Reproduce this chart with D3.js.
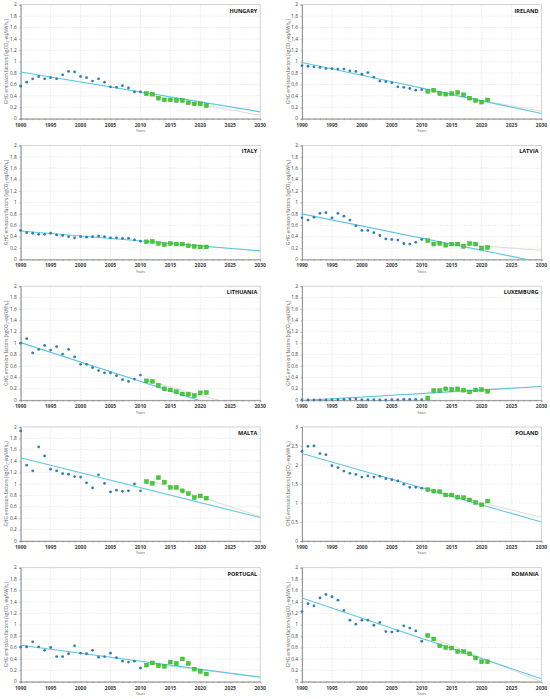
<!DOCTYPE html>
<html>
<head>
<meta charset="utf-8">
<script src="https://cdn.jsdelivr.net/npm/d3@7"></script>
<style>
body { margin: 0; background: #fff; }
text { font-family: 'Open Sans', 'Liberation Sans', sans-serif; }
</style>
</head>
<body>
<div class="chart"></div>
<script>
// countries, in panel order (left to right, top to bottom)
var countries = ['HUNGARY', 'IRELAND', 'ITALY', 'LATVIA', 'LITHUANIA', 'LUXEMBURG', 'MALTA', 'POLAND', 'PORTUGAL', 'ROMANIA'];

var years = [1990, 1991, 1992, 1993, 1994, 1995, 1996, 1997, 1998, 1999, 2000,
	2001, 2002, 2003, 2004, 2005, 2006, 2007, 2008, 2009, 2010,
	2011, 2012, 2013, 2014, 2015, 2016, 2017, 2018, 2019, 2020, 2021];
var firstRecentYear = 2011;

// emission factors, kgCO2-eq/kWhe
var hungary = [0.57, 0.64, 0.70, 0.74, 0.70, 0.72, 0.70, 0.77, 0.83, 0.82, 0.74,
	0.72, 0.66, 0.70, 0.64, 0.56, 0.55, 0.58, 0.54, 0.47, 0.47,
	0.44, 0.43, 0.36, 0.33, 0.33, 0.32, 0.32, 0.28, 0.26, 0.26, 0.23];
var ireland = [0.93, 0.92, 0.91, 0.90, 0.88, 0.88, 0.87, 0.87, 0.84, 0.83, 0.78,
	0.81, 0.73, 0.66, 0.65, 0.63, 0.56, 0.55, 0.53, 0.50, 0.51,
	0.48, 0.50, 0.44, 0.43, 0.44, 0.46, 0.42, 0.36, 0.32, 0.29, 0.33];
var italy = [0.51, 0.47, 0.46, 0.44, 0.44, 0.46, 0.43, 0.42, 0.40, 0.38, 0.40,
	0.39, 0.40, 0.41, 0.40, 0.38, 0.38, 0.37, 0.37, 0.345, 0.32,
	0.31, 0.315, 0.28, 0.26, 0.28, 0.27, 0.27, 0.24, 0.23, 0.22, 0.22];
var latvia = [0.73, 0.69, 0.74, 0.81, 0.82, 0.73, 0.81, 0.76, 0.69, 0.59, 0.51,
	0.51, 0.47, 0.42, 0.36, 0.35, 0.34, 0.28, 0.27, 0.30, 0.35,
	0.33, 0.27, 0.28, 0.25, 0.27, 0.27, 0.23, 0.28, 0.27, 0.20, 0.21];
var lithuania = [1.00, 1.08, 0.83, 0.89, 0.96, 0.88, 0.94, 0.81, 0.89, 0.76, 0.63,
	0.63, 0.57, 0.52, 0.48, 0.48, 0.43, 0.36, 0.33, 0.37, 0.44,
	0.34, 0.33, 0.26, 0.20, 0.18, 0.15, 0.11, 0.105, 0.08, 0.13, 0.135];
var luxemburg = [0.005, 0.005, 0.005, 0.005, 0.005, 0.01, 0.01, 0.015, 0.02, 0.025, 0.01,
	0.01, 0.01, 0.005, 0.005, 0.01, 0.01, 0.015, 0.015, 0.015, 0.01,
	0.04, 0.17, 0.17, 0.20, 0.19, 0.20, 0.175, 0.145, 0.18, 0.185, 0.155];
var malta = [1.93, 1.33, 1.23, 1.65, 1.49, 1.26, 1.23, 1.18, 1.17, 1.13, 1.12,
	1.02, 0.93, 1.16, 1.01, 0.86, 0.89, 0.87, 0.88, 1.00, 0.88,
	1.04, 1.01, 1.11, 1.03, 0.94, 0.94, 0.88, 0.83, 0.76, 0.79, 0.75];
var poland = [2.36, 2.49, 2.50, 2.30, 2.27, 1.98, 1.93, 1.84, 1.78, 1.75, 1.68,
	1.71, 1.68, 1.70, 1.64, 1.61, 1.58, 1.49, 1.41, 1.41, 1.39,
	1.35, 1.31, 1.30, 1.21, 1.21, 1.15, 1.14, 1.08, 1.01, 0.95, 1.05];
var portugal = [0.61, 0.61, 0.70, 0.61, 0.55, 0.60, 0.44, 0.44, 0.49, 0.63, 0.50,
	0.49, 0.55, 0.43, 0.44, 0.50, 0.42, 0.36, 0.345, 0.36, 0.24,
	0.29, 0.33, 0.28, 0.27, 0.345, 0.32, 0.40, 0.32, 0.22, 0.18, 0.135];
var romania = [1.23, 1.37, 1.33, 1.47, 1.53, 1.49, 1.43, 1.25, 1.08, 1.01, 1.08,
	1.08, 0.99, 1.04, 0.88, 0.87, 0.89, 0.98, 0.94, 0.89, 0.71,
	0.81, 0.75, 0.63, 0.60, 0.59, 0.53, 0.53, 0.49, 0.415, 0.35, 0.35];

var series = [hungary, ireland, italy, latvia, lithuania, luxemburg, malta, poland, portugal, romania];

// trend lines: full period fit (1990 -> 2030) and recent fit (2011 -> 2030)
var trendFrom = [1990, 2030];
var trend1990 = [0.82, 0.985, 0.50, 0.80, 1.01, -0.005, 1.46, 2.30, 0.64, 1.47];
var trend2030 = [0.12, 0.09, 0.15, -0.053, -0.35, 0.24, 0.41, 0.50, 0.08, 0.05];
var recentFrom = [2011, 2030];
var recent2011 = [0.42, 0.49, 0.31, 0.31, 0.35, 0.14, 1.08, 1.36, 0.32, 0.80];
var recent2030 = [0.06, 0.13, 0.15, 0.16, -0.20, 0.24, 0.43, 0.62, 0.08, 0.00];

var yMax = [2, 2, 2, 2, 2, 2, 2, 3, 2, 2];
var yStep = [0.2, 0.2, 0.2, 0.2, 0.2, 0.2, 0.2, 0.5, 0.2, 0.2];
var xTicks = [1990, 1995, 2000, 2005, 2010, 2015, 2020, 2025, 2030];

var W = 550, H = 699;
var colLeft = [20.7, 302];
var plotW = 239.5, plotH = 114;
var rowTop0 = 4.7, rowGap = 140.75;

var svg = d3.select('.chart')
	.append('svg')
	.attr('width', W)
	.attr('height', H);

countries.forEach(function(name, i) {
	var col = i % 2, row = Math.floor(i / 2);
	var left = colLeft[col], top = rowTop0 + row * rowGap;

	var g = svg.append('g')
		.attr('transform', 'translate(' + left + ',' + top + ')');

	var x = d3.scaleLinear().domain([1990, 2030]).range([0, plotW]);
	var y = d3.scaleLinear().domain([0, yMax[i]]).range([plotH, 0]);
	var yTicks = d3.range(0, yMax[i] + 1e-9, yStep[i]);

	g.append('clipPath').attr('id', 'clip' + i)
		.append('rect').attr('width', plotW).attr('height', plotH);

	// grid
	g.selectAll('.hgrid').data(yTicks.slice(1)).enter().append('line')
		.attr('x1', 0).attr('x2', plotW)
		.attr('y1', function(d) { return y(d); })
		.attr('y2', function(d) { return y(d); })
		.attr('stroke', '#e3e3e3').attr('stroke-width', 0.6)
		.attr('stroke-dasharray', '2,1');
	g.selectAll('.vgrid').data(xTicks.slice(1)).enter().append('line')
		.attr('y1', 0).attr('y2', plotH)
		.attr('x1', function(d) { return x(d); })
		.attr('x2', function(d) { return x(d); })
		.attr('stroke', '#e3e3e3').attr('stroke-width', 0.6)
		.attr('stroke-dasharray', '2,1');

	// plot frame
	g.append('rect')
		.attr('width', plotW).attr('height', plotH)
		.attr('fill', 'none').attr('stroke', '#c8c8c8').attr('stroke-width', 0.7);

	// axes
	var xAxis = g.append('g')
		.attr('transform', 'translate(0,' + plotH + ')')
		.call(d3.axisBottom(x).tickValues(years.concat(d3.range(2022, 2031))).tickSize(1.5).tickFormat(''));
	xAxis.select('.domain').attr('stroke', '#808080').attr('stroke-width', 0.8);
	xAxis.selectAll('line').attr('stroke', '#808080').attr('stroke-width', 0.5);

	g.selectAll('.xlab').data(xTicks).enter().append('text')
		.attr('x', function(d) { return x(d); })
		.attr('y', plotH + 8)
		.attr('text-anchor', 'middle')
		.style('font-size', '5px')
		.style('font-weight', 'bold')
		.attr('fill', '#404040')
		.text(function(d) { return d; });

	var yAxis = g.append('g')
		.call(d3.axisLeft(y).tickValues(yTicks).tickSize(1.5).tickFormat(''));
	yAxis.select('.domain').attr('stroke', '#808080').attr('stroke-width', 0.8);
	yAxis.selectAll('line').attr('stroke', '#808080').attr('stroke-width', 0.5);

	g.selectAll('.ylab').data(yTicks).enter().append('text')
		.attr('x', -4)
		.attr('y', function(d) { return y(d) + 1.7; })
		.attr('text-anchor', 'end')
		.style('font-size', '4.8px')
		.attr('fill', '#404040')
		.text(function(d) { return d3.format('~g')(+d.toFixed(1)); });

	// axis titles
	g.append('text')
		.attr('x', plotW / 2).attr('y', plotH + 13.5)
		.attr('text-anchor', 'middle')
		.style('font-size', '3.5px')
		.attr('fill', '#595959')
		.text('Years');

	var yt = g.append('text')
		.attr('transform', 'translate(-12.5,' + (plotH / 2) + ') rotate(-90)')
		.attr('text-anchor', 'middle')
		.style('font-size', '4.7px')
		.attr('fill', '#595959');
	yt.append('tspan').text('GHG emission factors (kgCO');
	yt.append('tspan').attr('dy', 1).style('font-size', '3.3px').text('2');
	yt.append('tspan').attr('dy', -1).text('-eq/kWh');
	yt.append('tspan').attr('dy', 1).style('font-size', '3.3px').text('e');
	yt.append('tspan').attr('dy', -1).text(')');

	// country name
	g.append('text')
		.attr('x', plotW - 3).attr('y', 8)
		.attr('text-anchor', 'end')
		.style('font-size', '5.5px')
		.style('font-weight', 'bold')
		.attr('fill', '#111')
		.text(name);

	var line = d3.line()
		.x(function(d) { return x(d[0]); })
		.y(function(d) { return y(d[1]); });

	var clipped = g.append('g').attr('clip-path', 'url(#clip' + i + ')');

	// recent-period trend (faint)
	clipped.append('path')
		.datum([[recentFrom[0], recent2011[i]], [recentFrom[1], recent2030[i]]])
		.attr('fill', 'none')
		.attr('stroke', '#d8d2c4')
		.attr('stroke-width', 0.8)
		.attr('d', line);

	// whole-period trend
	clipped.append('path')
		.datum([[trendFrom[0], trend1990[i]], [trendFrom[1], trend2030[i]]])
		.attr('fill', 'none')
		.attr('stroke', '#5ec6e4')
		.attr('stroke-width', 1.1)
		.attr('d', line);

	var pts = years.map(function(yr, k) { return {year: yr, v: series[i][k]}; });

	// 1990-2010 points
	g.append('g').selectAll('circle')
		.data(pts.filter(function(d) { return d.year < firstRecentYear; }))
		.enter().append('circle')
		.attr('cx', function(d) { return x(d.year); })
		.attr('cy', function(d) { return y(d.v); })
		.attr('r', 1.4)
		.attr('fill', '#2f7fb5');

	// 2011-2021 points
	g.append('g').selectAll('rect')
		.data(pts.filter(function(d) { return d.year >= firstRecentYear; }))
		.enter().append('rect')
		.attr('x', function(d) { return x(d.year) - 1.9; })
		.attr('y', function(d) { return y(d.v) - 1.9; })
		.attr('width', 3.8)
		.attr('height', 3.8)
		.attr('fill', '#3fcf2f')
		.attr('stroke', '#2a9a22')
		.attr('stroke-width', 0.4);
});
</script>
</body>
</html>
